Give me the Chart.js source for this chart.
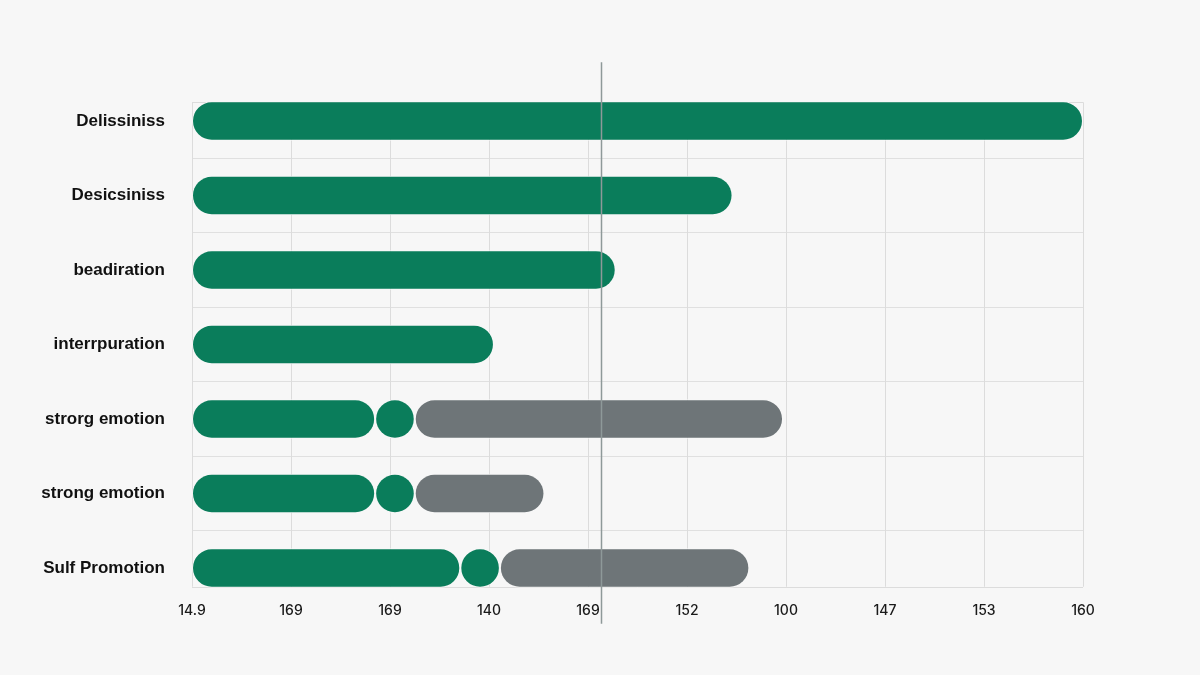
<!DOCTYPE html>
<html>
<head>
<meta charset="utf-8">
<script src="https://cdn.jsdelivr.net/npm/chart.js@4.4.1/dist/chart.umd.min.js"></script>
<style>
  html, body { margin: 0; padding: 0; background: #f7f7f7; }
  #wrap { width: 1200px; height: 675px; }
</style>
</head>
<body>
<div id="wrap"><canvas id="js-chart" width="1200" height="675"></canvas></div>
<script>
const categories = [
  "Delissiniss",
  "Desicsiniss",
  "beadiration",
  "interrpuration",
  "strorg emotion",
  "strong emotion",
  "Sulf Promotion",
];

// x axis tick labels, as printed (one per grid step)
const tickLabels = ["14.9", "169", "169", "140", "169", "152", "100", "147", "153", "160"];

const mainValues = [9.0, 5.46, 4.28, 3.05, 1.85, 1.85, 2.71];
const dotValues = [null, null, null, null, 0.4, 0.4, 0.4];
const greyValues = [null, null, null, null, 3.72, 1.31, 2.52];

const markerValue = 4.13;

const GREEN = "#0a7d5b";
const GREY = "#6e7578";
const BG = "#f7f7f7";
const BAR_PCT = 0.53;

function bandEdges(chart) {
  const y = chart.scales.y;
  const step = y.getPixelForValue(1) - y.getPixelForValue(0);
  const half = (step * BAR_PCT) / 2 - 1;
  return {
    top: y.getPixelForValue(0) - half,
    bottom: y.getPixelForValue(categories.length - 1) + half,
  };
}

const framePlugin = {
  id: "frame",
  beforeDatasetsDraw(chart) {
    const { ctx, chartArea, scales } = chart;
    const { top, bottom } = bandEdges(chart);
    ctx.save();
    ctx.strokeStyle = "#dcdcdc";
    ctx.lineWidth = 1;
    scales.x.ticks.forEach((t) => {
      const px = Math.round(scales.x.getPixelForValue(t.value)) + 0.5;
      ctx.beginPath();
      ctx.moveTo(px, top);
      ctx.lineTo(px, bottom);
      ctx.stroke();
    });
    [top, bottom].forEach((py) => {
      ctx.beginPath();
      ctx.moveTo(chartArea.left, Math.round(py) + 0.5);
      ctx.lineTo(chartArea.right, Math.round(py) + 0.5);
      ctx.stroke();
    });
    ctx.restore();
  },
  afterDatasetsDraw(chart) {
    const { ctx, scales } = chart;
    const { top, bottom } = bandEdges(chart);
    const px = Math.round(scales.x.getPixelForValue(markerValue)) + 0.5;
    ctx.save();
    ctx.strokeStyle = "#8e9999";
    ctx.lineWidth = 1.5;
    ctx.beginPath();
    ctx.moveTo(px, top - 40);
    ctx.lineTo(px, bottom + 37);
    ctx.stroke();
    ctx.restore();
  },
};

function barSet(label, data, color) {
  return {
    label: label,
    data: data,
    backgroundColor: color,
    borderColor: BG,
    borderWidth: 1,
    borderSkipped: false,
    // object form so every segment of a stack gets rounded ends
    borderRadius: { topLeft: 50, topRight: 50, bottomLeft: 50, bottomRight: 50 },
    barPercentage: BAR_PCT,
    categoryPercentage: 1,
  };
}

function drawChart() {
  const context = document.getElementById("js-chart").getContext("2d");

  new Chart(context, {
    type: "bar",
    data: {
      labels: categories,
      datasets: [
        barSet("main", mainValues, GREEN),
        barSet("dot", dotValues, GREEN),
        barSet("rest", greyValues, GREY),
      ],
    },
    options: {
      indexAxis: "y",
      responsive: false,
      animation: false,
      clip: false,
      layout: { padding: { left: 0, right: 117, top: 121, bottom: 47 } },
      plugins: {
        legend: { display: false },
        tooltip: { enabled: false },
      },
      scales: {
        x: {
          type: "linear",
          stacked: true,
          min: 0,
          max: 9,
          grid: { display: false, drawTicks: false },
          border: { display: false },
          afterFit: (s) => { s.height = 60; },
          ticks: {
            stepSize: 1,
            padding: 34,
            color: "#1a1a1a",
            font: { family: "Inter", size: 14, weight: "500" },
            callback: function (value, index) {
              return tickLabels[index];
            },
          },
        },
        y: {
          stacked: true,
          offset: false,
          grid: { offset: true, color: "#e0e0e0", drawTicks: false },
          border: { display: true, color: "#dcdcdc" },
          afterFit: (s) => { s.width = 192; },
          ticks: {
            padding: 27,
            color: "#111",
            font: { family: "Liberation Sans", size: 17, weight: "bold" },
          },
        },
      },
    },
    plugins: [framePlugin],
  });
}

drawChart();
</script>
</body>
</html>
